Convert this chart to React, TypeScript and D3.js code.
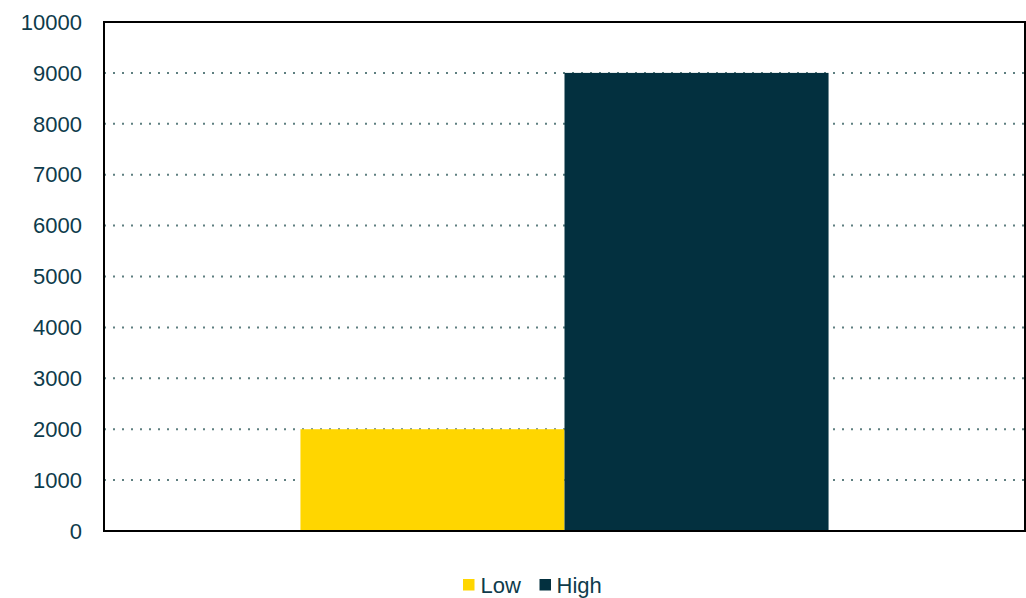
import React from "react";
import * as d3 from "d3";

const categories = ["Total"];
const seriesNames = ["Low", "High"];
const lowValues = [2000];
const highValues = [9000];
const yTicks = [0, 1000, 2000, 3000, 4000, 5000, 6000, 7000, 8000, 9000, 10000];
const seriesColors = ["#FFD600", "#03303F"];

const W = 1026;
const H = 598;
const margin = { left: 104, right: 1, top: 22, bottom: 67 };

export default function App() {
  const innerW = W - margin.left - margin.right;
  const innerH = H - margin.top - margin.bottom;
  const y = d3.scaleLinear().domain([0, 10000]).range([innerH, 0]);
  const x0 = d3.scaleBand().domain(categories).range([0, innerW]).paddingInner(0).paddingOuter(0.372);
  const x1 = d3.scaleBand().domain(seriesNames).range([0, x0.bandwidth()]).padding(0);
  const values = [lowValues, highValues];
  const textColor = "#0E3B4B";
  return (
    <svg width={W} height={H} style={{ position: "absolute", left: 0, top: 0, fontFamily: "Liberation Sans, Arial, sans-serif" }}>
      <rect x={0} y={0} width={W} height={H} fill="#fff" />
      <g transform={`translate(${margin.left},${margin.top})`}>
        {yTicks.map((t) => (
          <g key={t}>
            {t > 0 && (
              <line x1={0} x2={innerW} y1={y(t)} y2={y(t)} stroke="#5E7F80" strokeWidth={2} strokeDasharray="2 7" />
            )}
            <text x={-22} y={y(t)} dy="0.35em" textAnchor="end" fontSize={22} fill={textColor}>
              {t}
            </text>
          </g>
        ))}
        {categories.map((c, ci) => (
          <g key={c} transform={`translate(${x0(c)},0)`}>
            {seriesNames.map((s, si) => (
              <rect
                key={s}
                x={x1(s)}
                y={y(values[si][ci])}
                width={x1.bandwidth()}
                height={innerH - y(values[si][ci])}
                fill={seriesColors[si]}
              />
            ))}
          </g>
        ))}
        <rect x={0} y={0} width={innerW} height={innerH} fill="none" stroke="#000" strokeWidth={2} />
      </g>
      <g transform="translate(463,579)">
        <rect x={0} y={0} width={11.5} height={11.5} fill={seriesColors[0]} />
        <text x={17.5} y={6} dy="0.35em" fontSize={22} fill={textColor}>{seriesNames[0]}</text>
        <rect x={76.5} y={0} width={11.5} height={11.5} fill={seriesColors[1]} />
        <text x={93.5} y={6} dy="0.35em" fontSize={22} fill={textColor}>{seriesNames[1]}</text>
      </g>
    </svg>
  );
}
